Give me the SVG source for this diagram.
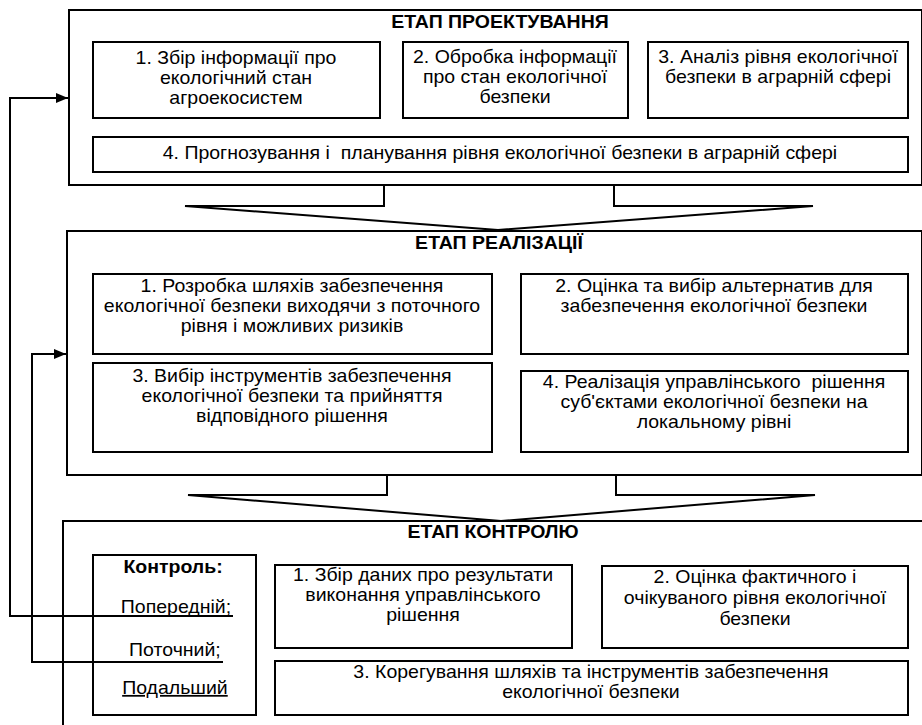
<svg xmlns="http://www.w3.org/2000/svg" width="922" height="725" viewBox="0 0 922 725">
<style>
.box{fill:none;stroke:#000;stroke-width:2}
.ln{fill:none;stroke:#000;stroke-width:2}
.t{font-family:"Liberation Sans",Arial,sans-serif;font-size:17.5px;fill:#000;text-anchor:middle}
.h{font-family:"Liberation Sans",Arial,sans-serif;font-size:17.5px;font-weight:bold;fill:#000;text-anchor:middle}
</style>
<defs>
<marker id="ah" markerWidth="12" markerHeight="10" refX="12" refY="5" orient="auto" markerUnits="userSpaceOnUse">
<path d="M0,0 L12,5 L0,10 Z" fill="#000"/>
</marker>
</defs>
<rect width="922" height="725" fill="#fff"/>

<g id="stage-design">
<rect class="box" x="69" y="10" width="853" height="175"/>
<g transform="scale(1.115,1)"><text class="h" x="448.4" y="28">ЕТАП ПРОЕКТУВАННЯ</text></g>
</g>
<g id="d1">
<rect class="box" x="93" y="42" width="287" height="76"/>
<g transform="scale(1.115,1)">
<text class="t" x="211.7" y="64">1. Збір інформації про</text>
<text class="t" x="211.7" y="84">екологічний стан</text>
<text class="t" x="211.7" y="104">агроекосистем</text>
</g>
</g>
<g id="d2">
<rect class="box" x="403" y="42" width="225" height="76"/>
<g transform="scale(1.115,1)">
<text class="t" x="461.9" y="63">2. Обробка інформації</text>
<text class="t" x="461.9" y="83">про стан екологічної</text>
<text class="t" x="461.9" y="103">безпеки</text>
</g>
</g>
<g id="d3">
<rect class="box" x="648" y="42" width="260" height="76"/>
<g transform="scale(1.115,1)">
<text class="t" x="697.8" y="63">3. Аналіз рівня екологічної</text>
<text class="t" x="697.8" y="83">безпеки в аграрній сфері</text>
</g>
</g>
<g id="d4">
<rect class="box" x="93" y="137" width="815" height="35"/>
<g transform="scale(1.115,1)">
<text class="t" x="448.4" y="159" xml:space="preserve">4. Прогнозування і  планування рівня екологічної безпеки в аграрній сфері</text>
</g>
</g>

<g id="stage-impl">
<rect class="box" x="67" y="231" width="855" height="244"/>
<g transform="scale(1.115,1)"><text class="h" x="447.5" y="249">ЕТАП РЕАЛІЗАЦІЇ</text></g>
</g>
<g id="r1">
<rect class="box" x="93" y="274" width="399" height="80"/>
<g transform="scale(1.115,1)">
<text class="t" x="261.9" y="292">1. Розробка шляхів забезпечення</text>
<text class="t" x="261.9" y="312">екологічної безпеки виходячи з поточного</text>
<text class="t" x="261.9" y="332">рівня і можливих ризиків</text>
</g>
</g>
<g id="r2">
<rect class="box" x="521" y="274" width="387" height="80"/>
<g transform="scale(1.115,1)">
<text class="t" x="640.4" y="292">2. Оцінка та вибір альтернатив для</text>
<text class="t" x="640.4" y="312">забезпечення екологічної безпеки</text>
</g>
</g>
<g id="r3">
<rect class="box" x="93" y="363" width="399" height="89"/>
<g transform="scale(1.115,1)">
<text class="t" x="261.9" y="382">3. Вибір інструментів забезпечення</text>
<text class="t" x="261.9" y="402">екологічної безпеки та прийняття</text>
<text class="t" x="261.9" y="422">відповідного рішення</text>
</g>
</g>
<g id="r4">
<rect class="box" x="521" y="371" width="387" height="81"/>
<g transform="scale(1.115,1)">
<text class="t" x="640.4" y="388" xml:space="preserve">4. Реалізація управлінського  рішення</text>
<text class="t" x="640.4" y="408">суб'єктами екологічної безпеки на</text>
<text class="t" x="640.4" y="428">локальному рівні</text>
</g>
</g>

<g id="stage-control">
<path class="box" d="M63,725 L63,521 L922,521"/>
<g transform="scale(1.115,1)"><text class="h" x="442.2" y="538">ЕТАП КОНТРОЛЮ</text></g>
</g>
<g id="control-types">
<rect class="box" x="93" y="555" width="163" height="160"/>
<g transform="scale(1.115,1)">
<text class="h" x="155.2" y="573">Контроль:</text>
<text class="t" x="157.8" y="613">Попередній;</text>
<text class="t" x="156.9" y="656">Поточний;</text>
<text class="t" x="156.9" y="694" text-decoration="underline">Подальший</text>
</g>
</g>
<g id="c1">
<rect class="box" x="275" y="565" width="297" height="83"/>
<g transform="scale(1.115,1)">
<text class="t" x="379.4" y="581">1. Збір даних про результати</text>
<text class="t" x="379.4" y="601">виконання управлінського</text>
<text class="t" x="379.4" y="621">рішення</text>
</g>
</g>
<g id="c2">
<rect class="box" x="602" y="566" width="306" height="82"/>
<g transform="scale(1.115,1)">
<text class="t" x="677.1" y="583">2. Оцінка фактичного і</text>
<text class="t" x="677.1" y="604">очікуваного рівня екологічної</text>
<text class="t" x="677.1" y="625">безпеки</text>
</g>
</g>
<g id="c3">
<rect class="box" x="275" y="661" width="633" height="54"/>
<g transform="scale(1.115,1)">
<text class="t" x="530" y="678">3. Корегування шляхів та інструментів забезпечення</text>
<text class="t" x="530" y="698">екологічної безпеки</text>
</g>
</g>

<g id="connectors">
<polyline class="ln" points="384,185 384,206 185,206 498,230 813,206 614,206 614,185"/>
<polyline class="ln" points="387,475 387,495 188,495 501,521 815,495 616,495 616,475"/>
<polyline class="ln" points="233,616 10,616 10,98 68,98" marker-end="url(#ah)"/>
<polyline class="ln" points="223,662 32,662 32,354 66,354" marker-end="url(#ah)"/>
</g>
</svg>
